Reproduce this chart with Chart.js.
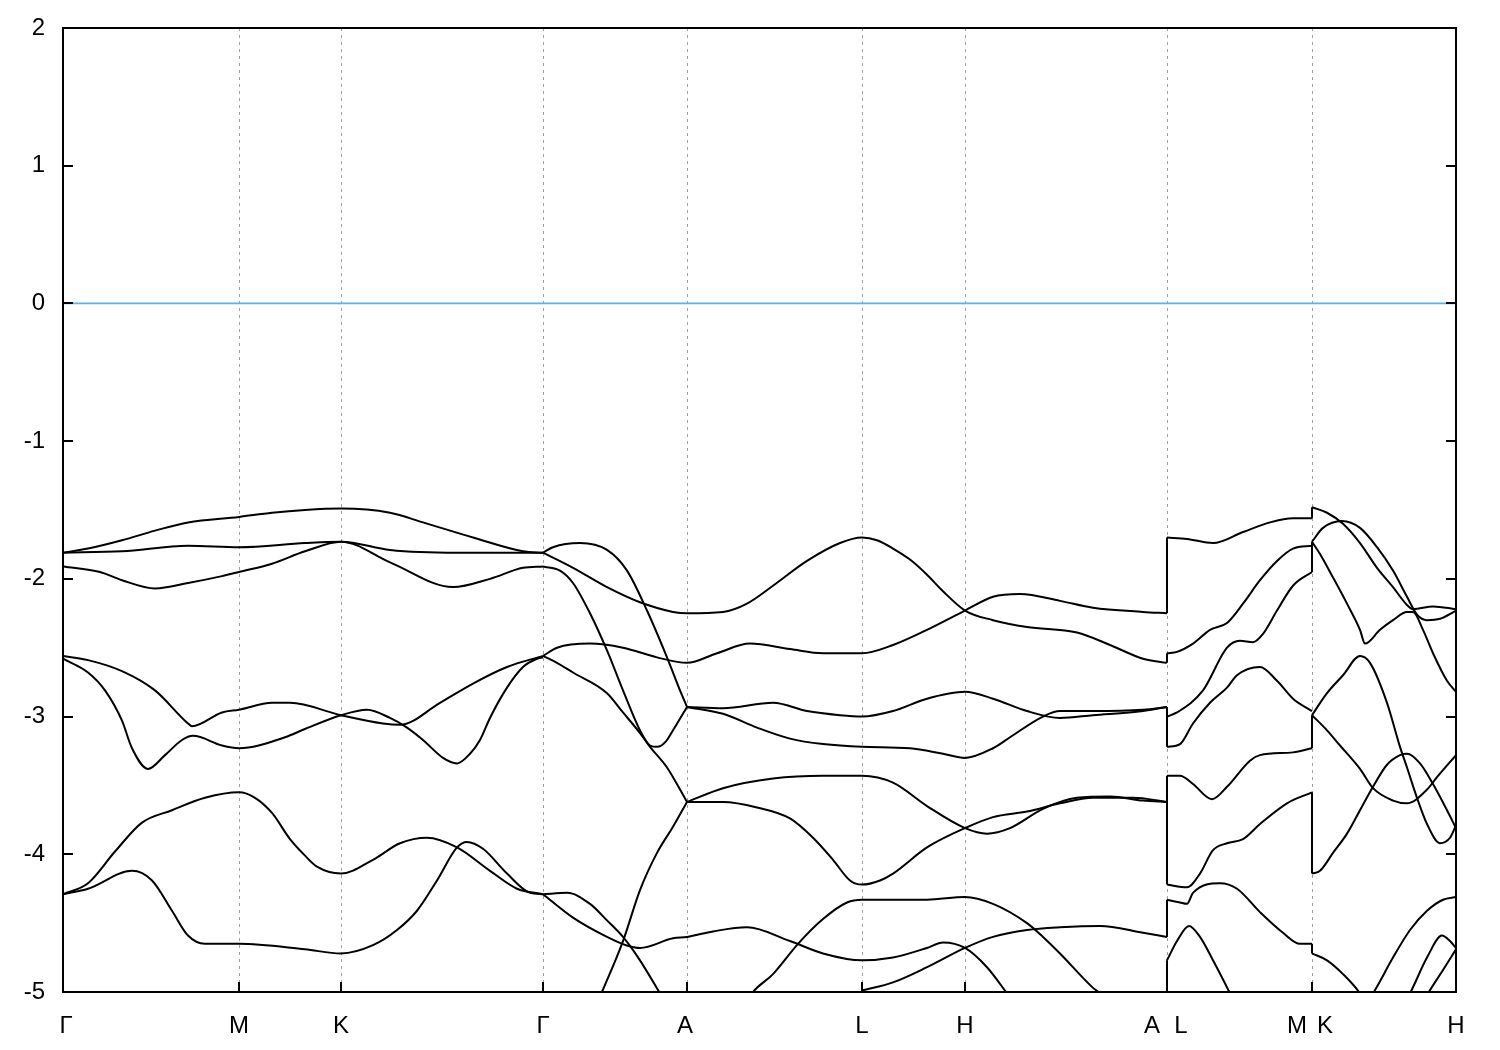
<!DOCTYPE html>
<html><head><meta charset="utf-8">
<script src="https://cdn.jsdelivr.net/npm/chart.js@4"></script>
<style>html,body{margin:0;padding:0;background:#fff}canvas{display:block}</style>
</head><body>
<canvas id="c" width="1500" height="1050"></canvas>
<script>
// high-symmetry points along the k-path (path distance units)
const symPoints = [0, 176, 278, 480, 624, 799, 902, 1104, 1249, 1393];
const tickLabels = ['Γ', 'M', 'K', 'Γ', 'A', 'L', 'H', 'A', 'L', 'M', 'K', 'H'];
const tickLabelPos = [3, 176, 278, 480, 622, 799, 902, 1089, 1118, 1234, 1262, 1393];
const yTicks = [-5, -4, -3, -2, -1, 0, 1, 2];
const fermiLevel = 0;

// ---- bands, Γ-M-K-Γ : [k, E] ----
const gmk1 = [[0,-1.81],[25,-1.78],[59,-1.72],[92,-1.65],[125,-1.59],[176,-1.55],[209,-1.52],[242,-1.50],[278,-1.49],[327,-1.52],[360,-1.59],[410,-1.70],[460,-1.80],[480,-1.81]];
const gmk2 = [[0,-1.81],[59,-1.80],[125,-1.76],[176,-1.77],[242,-1.74],[278,-1.73],[327,-1.79],[394,-1.81],[480,-1.81]];
const gmk3 = [[0,-1.91],[37,-1.95],[59,-2.01],[92,-2.07],[125,-2.03],[159,-1.98],[176,-1.95],[209,-1.89],[242,-1.80],[278,-1.73],[327,-1.88],[390,-2.06],[427,-2.00],[460,-1.92],[480,-1.91]];
const gmk4 = [[0,-2.56],[25,-2.59],[59,-2.67],[92,-2.81],[125,-3.05],[129,-3.07],[159,-2.97],[176,-2.95],[209,-2.90],[227,-2.90],[278,-2.99],[320,-3.05],[337,-3.06],[377,-2.90],[410,-2.76],[444,-2.64],[480,-2.56]];
const gmk5 = [[0,-2.58],[25,-2.68],[42,-2.81],[59,-3.03],[69,-3.23],[85,-3.38],[102,-3.28],[119,-3.17],[130,-3.14],[159,-3.21],[176,-3.23],[222,-3.15],[242,-3.09],[278,-2.99],[304,-2.95],[327,-3.01],[344,-3.08],[360,-3.17],[380,-3.30],[394,-3.34],[407,-3.27],[417,-3.17],[427,-3.01],[444,-2.79],[460,-2.64],[474,-2.58],[480,-2.57]];
const gmk6 = [[0,-4.29],[25,-4.21],[52,-3.98],[79,-3.77],[109,-3.68],[142,-3.59],[176,-3.55],[192,-3.59],[209,-3.70],[227,-3.89],[242,-4.01],[254,-4.09],[278,-4.14],[310,-4.04],[337,-3.92],[364,-3.88],[394,-3.95],[427,-4.12],[454,-4.25],[480,-4.29]];
const gmk7 = [[0,-4.29],[25,-4.25],[69,-4.12],[89,-4.19],[109,-4.41],[125,-4.59],[142,-4.65],[176,-4.65],[242,-4.69],[278,-4.72],[310,-4.66],[334,-4.55],[354,-4.41],[374,-4.19],[394,-3.95],[404,-3.91],[420,-3.96],[444,-4.14],[467,-4.28],[480,-4.29]];

// ---- bands, Γ-A-L-H-A ----
const gaE = [[480,-1.81],[490,-1.77],[517,-1.74],[544,-1.79],[564,-1.94],[584,-2.23],[604,-2.57],[617,-2.81],[624,-2.93]];
const gaF = [[480,-1.81],[510,-1.92],[544,-2.06],[577,-2.17],[610,-2.24],[624,-2.25],[660,-2.24],[684,-2.18],[710,-2.05],[744,-1.87],[777,-1.74],[799,-1.70],[814,-1.72],[830,-1.78],[847,-1.86],[864,-1.97],[880,-2.09],[902,-2.23],[930,-2.30],[964,-2.35],[1014,-2.39],[1047,-2.48],[1080,-2.58],[1104,-2.61]];
const gaG = [[480,-1.91],[497,-1.94],[510,-2.03],[527,-2.25],[544,-2.52],[560,-2.81],[577,-3.10],[587,-3.21],[594,-3.22],[603,-3.18],[610,-3.10],[624,-2.93]];
const gaH = [[480,-2.56],[494,-2.50],[527,-2.47],[560,-2.50],[594,-2.57],[624,-2.61],[654,-2.54],[687,-2.47],[727,-2.51],[760,-2.54],[799,-2.54],[830,-2.48],[864,-2.37],[902,-2.23],[930,-2.13],[957,-2.11],[997,-2.16],[1030,-2.21],[1080,-2.24],[1104,-2.25]];
const gaI = [[480,-2.56],[494,-2.61],[510,-2.68],[544,-2.83],[560,-2.97],[577,-3.12],[587,-3.22],[604,-3.37],[624,-3.62]];
const gaJ = [[532,-5.12],[539,-5.0],[560,-4.63],[577,-4.26],[594,-3.99],[610,-3.80],[624,-3.62]];
const al1 = [[624,-3.62],[660,-3.52],[710,-3.45],[760,-3.43],[799,-3.43],[830,-3.48],[864,-3.65],[902,-3.81],[924,-3.85],[947,-3.81],[980,-3.67],[1014,-3.59],[1047,-3.58],[1080,-3.61],[1104,-3.62]];
const al2 = [[624,-3.62],[660,-3.62],[694,-3.66],[727,-3.74],[750,-3.88],[770,-4.04],[787,-4.19],[799,-4.22],[817,-4.19],[830,-4.14],[864,-3.95],[902,-3.81],[930,-3.73],[964,-3.69],[997,-3.63],[1030,-3.59],[1070,-3.59],[1104,-3.62]];
const al3 = [[624,-2.93],[660,-2.94],[710,-2.90],[744,-2.96],[777,-2.99],[799,-3.00],[830,-2.96],[864,-2.87],[902,-2.82],[930,-2.87],[964,-2.96],[997,-3.01],[1030,-2.99],[1080,-2.96],[1104,-2.93]];
const al4 = [[624,-2.93],[660,-2.98],[694,-3.08],[727,-3.16],[760,-3.20],[799,-3.22],[847,-3.23],[880,-3.27],[902,-3.30],[930,-3.23],[947,-3.15],[980,-3.00],[997,-2.96],[1030,-2.96],[1080,-2.95],[1104,-2.93]];
const lowK1 = [[480,-4.29],[504,-4.28],[527,-4.36],[544,-4.48],[560,-4.60],[577,-4.77],[597,-5.01],[603,-5.08]];
const lowK2 = [[480,-4.29],[510,-4.46],[544,-4.60],[563,-4.66],[577,-4.68],[610,-4.61],[624,-4.60],[650,-4.56],[684,-4.53],[727,-4.63],[760,-4.72],[799,-4.77],[830,-4.75],[864,-4.68],[880,-4.64],[902,-4.68],[924,-4.82],[944,-5.01],[950,-5.07]];
const lowK3 = [[684,-5.07],[690,-5.0],[710,-4.87],[735,-4.65],[760,-4.47],[784,-4.35],[799,-4.33],[864,-4.33],[902,-4.31],[930,-4.36],[964,-4.50],[980,-4.60],[997,-4.72],[1030,-4.97],[1037,-5.01],[1042,-5.06]];
const lowK4 = [[799,-4.99],[830,-4.93],[864,-4.82],[902,-4.68],[930,-4.60],[964,-4.55],[997,-4.53],[1037,-4.52],[1080,-4.57],[1104,-4.60]];

// ---- bands, L-M ----
const lm1 = [[1104,-1.70],[1124,-1.71],[1150,-1.74],[1180,-1.66],[1207,-1.59],[1230,-1.56],[1249,-1.56]];
const lm2 = [[1104,-2.54],[1114,-2.53],[1130,-2.47],[1147,-2.37],[1164,-2.32],[1180,-2.18],[1197,-2.01],[1214,-1.87],[1230,-1.78],[1249,-1.76]];
const lm3 = [[1104,-3.00],[1114,-2.97],[1140,-2.81],[1164,-2.50],[1177,-2.45],[1190,-2.46],[1200,-2.40],[1214,-2.23],[1230,-2.05],[1249,-1.95]];
const lm4 = [[1104,-3.22],[1117,-3.20],[1130,-3.05],[1147,-2.90],[1164,-2.79],[1174,-2.70],[1197,-2.64],[1214,-2.74],[1230,-2.87],[1249,-2.96]];
const lm5 = [[1104,-3.43],[1117,-3.43],[1130,-3.49],[1149,-3.60],[1164,-3.51],[1187,-3.32],[1197,-3.28],[1230,-3.26],[1249,-3.23]];
const lm6 = [[1104,-4.22],[1124,-4.24],[1137,-4.14],[1150,-3.97],[1164,-3.92],[1180,-3.89],[1197,-3.78],[1224,-3.63],[1249,-3.55]];
const lm7 = [[1104,-4.33],[1117,-4.35],[1124,-4.36],[1130,-4.28],[1157,-4.21],[1174,-4.25],[1197,-4.42],[1220,-4.57],[1237,-4.65],[1249,-4.65]];
const lm8 = [[1104,-4.77],[1114,-4.63],[1126,-4.52],[1137,-4.60],[1150,-4.77],[1167,-5.01],[1171,-5.07]];

// ---- bands, K-H ----
const kh1 = [[1249,-1.48],[1264,-1.52],[1280,-1.60],[1297,-1.74],[1314,-1.92],[1330,-2.06],[1344,-2.19],[1350,-2.22],[1370,-2.20],[1393,-2.22]];
const kh2 = [[1249,-1.73],[1260,-1.63],[1279,-1.58],[1297,-1.63],[1314,-1.77],[1330,-1.94],[1344,-2.13],[1354,-2.26],[1364,-2.30],[1377,-2.29],[1393,-2.23]];
const kh3 = [[1249,-1.73],[1257,-1.82],[1270,-1.99],[1284,-2.18],[1297,-2.37],[1302,-2.47],[1317,-2.37],[1330,-2.30],[1344,-2.24],[1350,-2.24],[1360,-2.37],[1370,-2.54],[1384,-2.74],[1393,-2.82]];
const kh4 = [[1249,-2.99],[1264,-2.83],[1280,-2.70],[1297,-2.56],[1307,-2.61],[1324,-2.90],[1337,-3.22],[1344,-3.37],[1354,-3.59],[1364,-3.78],[1377,-3.92],[1387,-3.88],[1393,-3.79]];
const kh5 = [[1249,-2.99],[1264,-3.10],[1277,-3.21],[1297,-3.38],[1310,-3.52],[1330,-3.61],[1344,-3.63],[1364,-3.53],[1374,-3.44],[1393,-3.28]];
const kh6 = [[1249,-4.14],[1257,-4.12],[1270,-3.99],[1284,-3.85],[1297,-3.68],[1310,-3.51],[1324,-3.35],[1337,-3.28],[1344,-3.27],[1357,-3.34],[1370,-3.49],[1384,-3.68],[1393,-3.81]];
const kh7 = [[1249,-4.72],[1264,-4.77],[1280,-4.87],[1297,-5.01],[1301,-5.06]];
const kh8 = [[1305,-5.06],[1310,-5.01],[1330,-4.75],[1347,-4.55],[1364,-4.41],[1380,-4.33],[1393,-4.31]];
const kh9 = [[1343,-5.06],[1347,-5.01],[1364,-4.75],[1379,-4.59],[1387,-4.63],[1393,-4.68]];
const kh10 = [[1361,-5.06],[1365,-5.01],[1380,-4.84],[1393,-4.69]];

// discontinuities of the path: energies just before -> just after
const jumpAL = [[-2.25,-1.70],[-2.61,-2.54],[-2.93,-3.22],[-3.62,-3.43],[-3.62,-4.22],[-4.60,-4.33],[-5.2,-4.77]];
const jumpMK = [[-1.56,-1.48],[-1.76,-1.73],[-1.95,-1.73],[-3.23,-2.99],[-3.55,-4.14],[-4.65,-4.72]];

const bands = [gmk1,gmk2,gmk3,gmk4,gmk5,gmk6,gmk7,gaE,gaF,gaG,gaH,gaI,gaJ,al1,al2,al3,al4,lowK1,lowK2,lowK3,lowK4,
  lm1,lm2,lm3,lm4,lm5,lm6,lm7,lm8,kh1,kh2,kh3,kh4,kh5,kh6,kh7,kh8,kh9,kh10];

const LW = 2;
const datasets = [];
datasets.push({data:[{x:symPoints[0],y:fermiLevel},{x:symPoints[symPoints.length-1],y:fermiLevel}],
  showLine:true,borderColor:'#56b4e9',borderWidth:1.8,pointRadius:0,tension:0});
bands.forEach(b => datasets.push({
  data:b.map(p=>({x:p[0],y:p[1]})),showLine:true,borderColor:'#000',borderWidth:LW,
  pointRadius:0,cubicInterpolationMode:'monotone',fill:false}));
jumpAL.forEach(j => datasets.push({data:[{x:symPoints[7],y:j[0]},{x:symPoints[7],y:j[1]}],
  showLine:true,borderColor:'#000',borderWidth:LW,pointRadius:0,tension:0}));
jumpMK.forEach(j => datasets.push({data:[{x:symPoints[8],y:j[0]},{x:symPoints[8],y:j[1]}],
  showLine:true,borderColor:'#000',borderWidth:LW,pointRadius:0,tension:0}));

const framePlugin = {
  id:'frame',
  beforeDatasetsDraw(chart){
    const {ctx, chartArea:a, scales:{x}} = chart;
    ctx.save();
    ctx.strokeStyle='#a0a0a0'; ctx.lineWidth=1; ctx.setLineDash([3,4]);
    symPoints.slice(1,-1).forEach(k=>{
      const px=Math.round(x.getPixelForValue(k))+0.5;
      ctx.beginPath(); ctx.moveTo(px,a.top); ctx.lineTo(px,a.bottom); ctx.stroke();
    });
    ctx.restore();
  },
  afterDatasetsDraw(chart){
    const {ctx, chartArea:a, scales:{x,y}} = chart;
    ctx.save();
    ctx.strokeStyle='#000'; ctx.lineWidth=2; ctx.setLineDash([]);
    ctx.strokeRect(a.left,a.top,a.right-a.left,a.bottom-a.top);
    const L=10;
    ctx.beginPath();
    yTicks.forEach(v=>{
      const py=Math.round(y.getPixelForValue(v));
      ctx.moveTo(a.left,py); ctx.lineTo(a.left+L,py);
      ctx.moveTo(a.right,py); ctx.lineTo(a.right-L,py);
    });
    symPoints.forEach(k=>{
      const px=Math.round(x.getPixelForValue(k));
      ctx.moveTo(px,a.bottom); ctx.lineTo(px,a.bottom-L);
    });
    ctx.stroke();
    ctx.restore();
  }
};

const font = {family:'"Liberation Sans", Arial, sans-serif', size:24};
new Chart(document.getElementById('c').getContext('2d'), {
  type:'scatter',
  data:{datasets},
  options:{
    responsive:false, animation:false, devicePixelRatio:1,
    layout:{padding:{top:28,right:44,left:0,bottom:0}},
    plugins:{legend:{display:false},tooltip:{enabled:false}},
    scales:{
      x:{type:'linear',min:symPoints[0],max:symPoints[symPoints.length-1],
        grid:{display:false},border:{display:false},
        afterBuildTicks:s=>{s.ticks=tickLabelPos.map(v=>({value:v}));},
        ticks:{autoSkip:false,maxRotation:0,minRotation:0,padding:12,font,color:'#000',
          callback:(v,i)=>tickLabels[i]},
        afterFit:s=>{s.height=58;}},
      y:{type:'linear',min:-5,max:2,
        grid:{display:false},border:{display:false},
        afterBuildTicks:s=>{s.ticks=yTicks.map(v=>({value:v}));},
        ticks:{padding:10,font,color:'#000',callback:v=>String(v)},
        afterFit:s=>{s.width=63;}}
    }
  },
  plugins:[framePlugin]
});
</script>
</body></html>
